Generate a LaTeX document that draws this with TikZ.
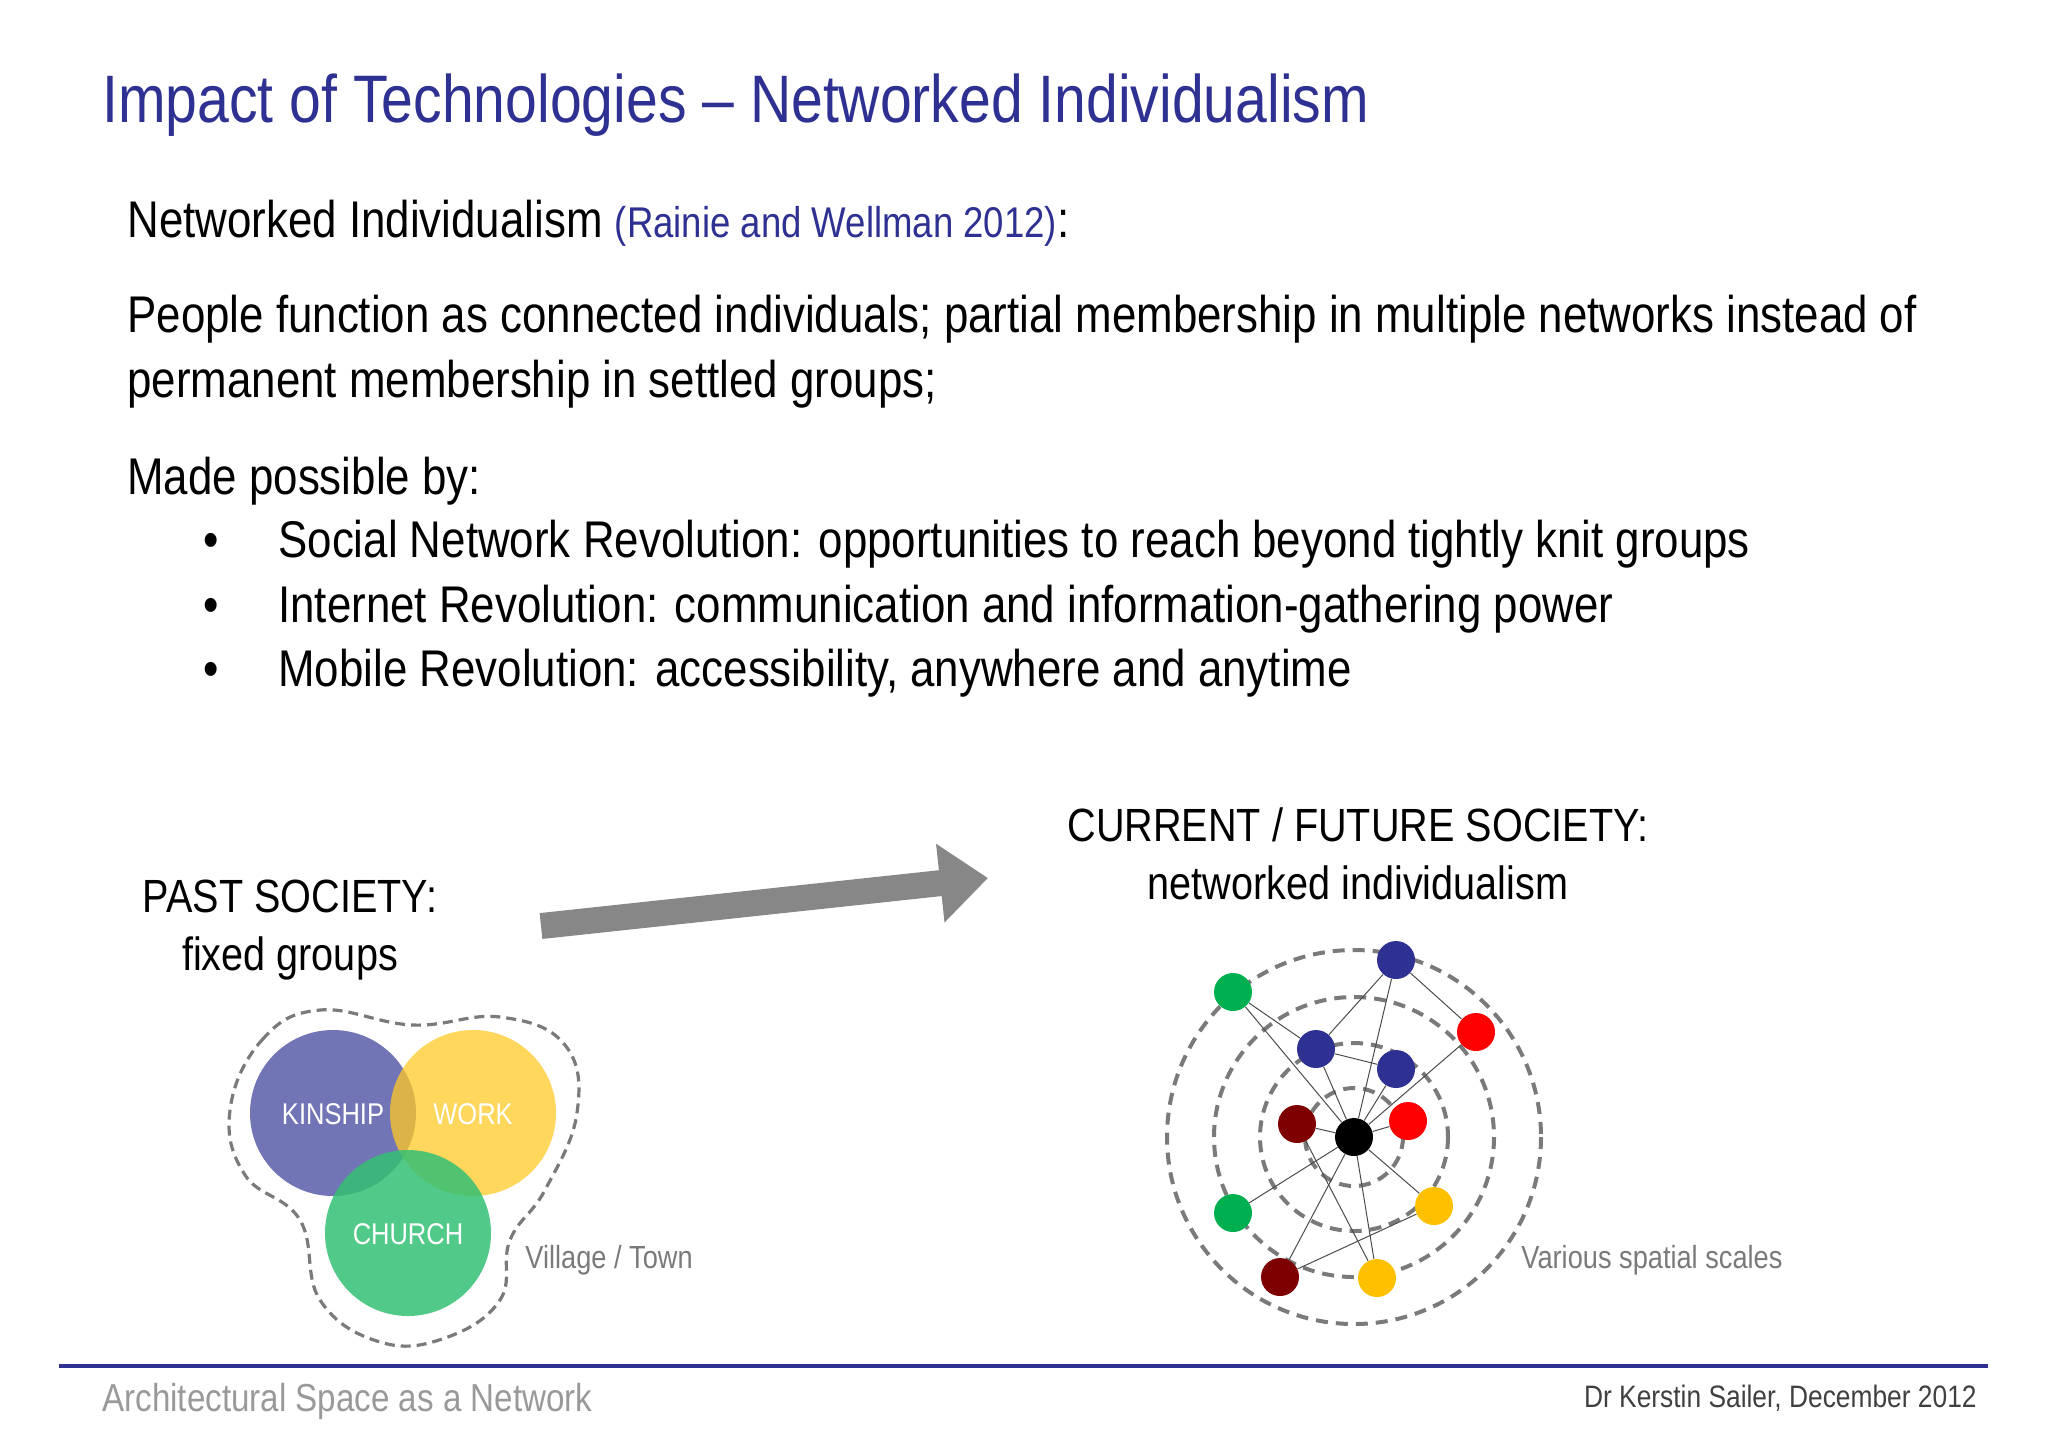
\documentclass[tikz,border=0pt]{standalone}
\usepackage{fontspec}
\setmainfont{Liberation Sans}[FakeStretch=0.85]
\usetikzlibrary{arrows.meta}
\definecolor{ttl}{HTML}{2E3192}
\definecolor{dgray}{HTML}{7A7A7A}
\definecolor{nblue}{HTML}{2E3192}
\definecolor{ngreen}{HTML}{00B050}
\definecolor{nred}{HTML}{FF0000}
\definecolor{ndred}{HTML}{7F0000}
\definecolor{nyel}{HTML}{FFC000}
\tikzset{
  body/.style={anchor=base west,font=\fontsize{25.8}{30}\selectfont,inner sep=0},
  ring/.style={draw=dgray,line width=2pt,dash pattern=on 6pt off 4pt},
  dot/.style={circle,fill=#1,minimum size=19pt,inner sep=0},
  edge/.style={draw=black!70,line width=0.5pt},
  venn/.style={circle,minimum size=83pt,inner sep=0},
  vlabel/.style={text=white,font=\fontsize{15}{17}\selectfont},
  heading/.style={align=center,font=\fontsize{23.3}{29}\selectfont,inner sep=0},
  small/.style={text=dgray,font=\fontsize{16}{18}\selectfont,inner sep=0}
}
\begin{document}
\begin{tikzpicture}[x=0.5pt,y=-0.5pt]
\useasboundingbox (0,0) rectangle (2048,1448);
\node[anchor=base west,text=ttl,font=\fontsize{33.6}{36}\selectfont,inner sep=0] (title) at (102,122) {Impact of Technologies -- Networked Individualism};
\node[body] (l1) at (127,237) {Networked Individualism {\color{ttl}\fontsize{21.5}{24}\selectfont(Rainie and Wellman 2012)}:};
\node[body] (l2) at (127,332) {People function as connected individuals; partial membership in multiple networks instead of};
\node[body] (l3) at (127,397) {permanent membership in settled groups;};
\node[body] (l4) at (127,494) {Made possible by:};
\node[body] (b1) at (203,557) {\textbullet};
\node[body] (t1) at (278,557) {Social Network Revolution: opportunities to reach beyond tightly knit groups};
\node[body] (b2) at (203,622) {\textbullet};
\node[body] (t2) at (278,622) {Internet Revolution: communication and information-gathering power};
\node[body] (b3) at (203,686) {\textbullet};
\node[body] (t3) at (278,686) {Mobile Revolution: accessibility, anywhere and anytime};
% headings
\node[heading] (past) at (290,930) {PAST SOCIETY:\\fixed groups};
\node[heading] (cur) at (1358,854) {CURRENT / FUTURE SOCIETY:\\networked individualism};
\coordinate (as) at (541,926);
\coordinate (ae) at (988,878);
\draw[line width=13pt,draw=dgray!90,-{Triangle[length=24pt,width=38pt]}] (as) -- (ae);
% venn
\draw[dgray,line width=1.6pt,dash pattern=on 5pt off 3pt] plot[smooth cycle,tension=0.7] coordinates {(230,1110) (262,1040) (320,1010) (413,1025) (500,1017) (565,1045) (577,1113) (545,1190) (510,1240) (500,1300) (445,1338) (380,1342) (320,1300) (300,1220) (245,1175)};
\node[venn,fill=nblue!75!white,fill opacity=0.9] (kin) at (333,1113) {};
\node[venn,fill=nyel!85!white,fill opacity=0.75] (work) at (473,1113) {};
\node[venn,fill=ngreen!80!white,fill opacity=0.85] (church) at (408,1233) {};
\node[vlabel] (kinl) at (333,1114) {KINSHIP};
\node[vlabel] (workl) at (473,1114) {WORK};
\node[vlabel] (churchl) at (408,1234) {CHURCH};
\node[small,anchor=west] (vt) at (525,1260) {Village / Town};
% network
\foreach \r in {49,94,140,187} \draw[ring] (1354,1137) circle[radius=\r];
\node[dot=black] (c) at (1354,1137) {};
\node[dot=nblue] (bt) at (1396,960) {};
\node[dot=ngreen] (gt) at (1233,992) {};
\node[dot=nred] (rt) at (1476,1032) {};
\node[dot=nblue] (bm) at (1316,1049) {};
\node[dot=nblue] (bi) at (1396,1069) {};
\node[dot=ndred] (di) at (1297,1124) {};
\node[dot=nred] (ri) at (1408,1121) {};
\node[dot=ngreen] (gb) at (1233,1213) {};
\node[dot=nyel] (yr) at (1434,1206) {};
\node[dot=ndred] (db) at (1280,1277) {};
\node[dot=nyel] (yb) at (1377,1278) {};
\foreach \a/\b in {gt/c,gt/bm,bt/bm,bt/c,bt/rt,rt/c,bm/bi,bm/c,bi/c,di/c,ri/c,c/gb,c/yr,c/db,c/yb,di/yb,db/yr}
  \draw[edge] (\a) -- (\b);
\node[small,anchor=west] (vs) at (1521,1260) {Various spatial scales};
% footer
\coordinate (fl) at (59,1366);
\coordinate (fr) at (1988,1366);
\draw[ttl,line width=2pt] (fl) -- (fr);
\node[anchor=base west,text=gray!80,font=\fontsize{19.5}{20}\selectfont,inner sep=0] (fa) at (102,1411) {Architectural Space as a Network};
\node[anchor=base east,text=black!75,font=\fontsize{15.5}{18}\selectfont,inner sep=0] (fb) at (1977,1407) {Dr Kerstin Sailer, December 2012};
\end{tikzpicture}
\end{document}
